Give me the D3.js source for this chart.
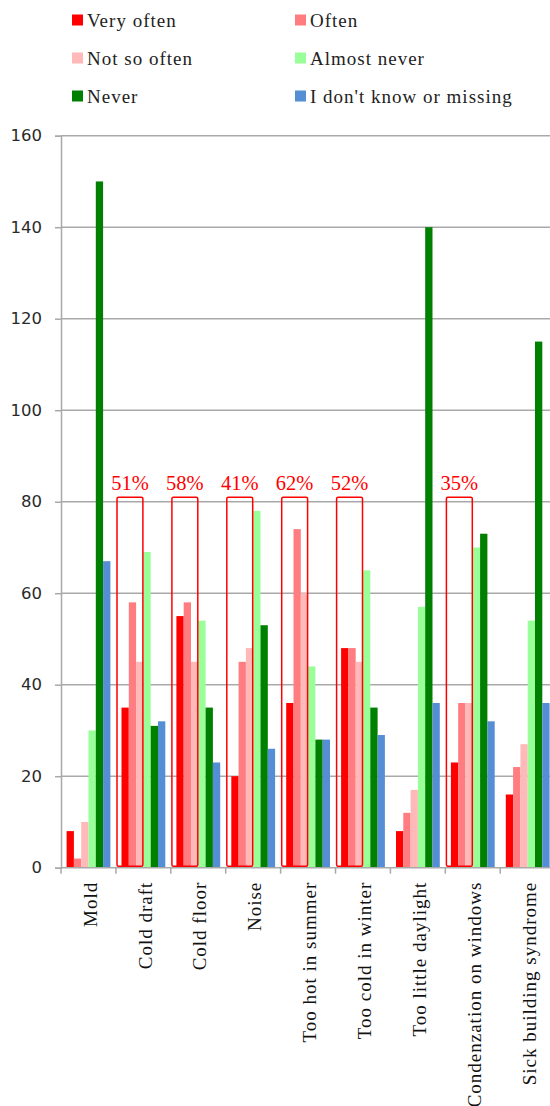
<!DOCTYPE html>
<html>
<head>
<meta charset="utf-8">
<script src="https://cdn.jsdelivr.net/npm/d3@7"></script>
<style>
  html, body { margin: 0; padding: 0; background: #ffffff; }
  svg { display: block; }
</style>
</head>
<body>
<script>
const categories = ["Mold", "Cold draft", "Cold floor", "Noise", "Too hot in summer",
  "Too cold in winter", "Too little daylight", "Condenzation on windows", "Sick building syndrome"];
const seriesNames = ["Very often", "Often", "Not so often", "Almost never", "Never", "I don't know or missing"];
const seriesColors = ["#ff0000", "#ff7c80", "#ffb9b9", "#99ff99", "#008000", "#558ed5"];
const veryOften   = [8, 35, 55, 20, 36, 48, 8, 23, 16];
const often       = [2, 58, 58, 45, 74, 48, 12, 36, 22];
const notSoOften  = [10, 45, 45, 48, 60, 45, 17, 36, 27];
const almostNever = [30, 69, 54, 78, 44, 65, 57, 70, 54];
const never       = [150, 31, 35, 53, 28, 35, 140, 73, 115];
const dontKnow    = [67, 32, 23, 26, 28, 29, 36, 32, 36];
const highlightCats = ["Cold draft", "Cold floor", "Noise", "Too hot in summer", "Too cold in winter", "Condenzation on windows"];
const highlightLabels = ["51%", "58%", "41%", "62%", "52%", "35%"];
const highlightTop = 81;
const yTicks = [0, 20, 40, 60, 80, 100, 120, 140, 160];

const seriesValues = [veryOften, often, notSoOften, almostNever, never, dontKnow];

const W = 550, H = 1106;
const svg = d3.select("body").append("svg").attr("width", W).attr("height", H);

const left = 61, bandW = 54.9;
const x0 = d3.scaleBand().domain(categories).range([left, left + bandW * categories.length]).padding(0);
const x1 = d3.scaleBand().domain(seriesNames).range([5.6, 49.4]).padding(0);
const y = d3.scaleLinear().domain([0, 160]).range([867.7, 135.7]);

const gridColor = "#a9a9a9";
const serif = "'Liberation Serif', 'Times New Roman', serif";

// gridlines
svg.append("g").selectAll("line").data(yTicks.filter(d => d > 0)).join("line")
  .attr("x1", left).attr("x2", W)
  .attr("y1", d => y(d)).attr("y2", d => y(d))
  .attr("stroke", gridColor).attr("stroke-width", 1.5);

// y axis
const yAxis = svg.append("g").attr("transform", `translate(${left},0)`)
  .call(d3.axisLeft(y).tickValues(yTicks).tickSize(6).tickPadding(13));
yAxis.select(".domain").attr("stroke", gridColor).attr("stroke-width", 1.5);
yAxis.selectAll(".tick line").attr("stroke", gridColor).attr("stroke-width", 1.5);
yAxis.selectAll(".tick text")
  .attr("font-family", "'DejaVu Sans', Verdana, sans-serif")
  .attr("font-size", 16.5).attr("fill", "#2a2a2a");

// bars
const groups = svg.append("g").selectAll("g").data(categories).join("g")
  .attr("transform", d => `translate(${x0(d)},0)`);
groups.selectAll("rect")
  .data((c, i) => seriesNames.map((s, k) => ({ s, k, v: seriesValues[k][i] })))
  .join("rect")
  .attr("x", d => x1(d.s))
  .attr("width", x1.bandwidth())
  .attr("y", d => y(d.v))
  .attr("height", d => y(0) - y(d.v))
  .attr("fill", d => seriesColors[d.k]);

// x axis
const xAxis = svg.append("g").attr("transform", `translate(0,${y(0)})`)
  .call(d3.axisBottom(x0).tickValues([]).tickSizeOuter(0));
xAxis.select(".domain").attr("stroke", gridColor).attr("stroke-width", 1.5).attr("d", `M${left},0H${W}`);
svg.append("g").selectAll("line").data(categories).join("line")
  .attr("x1", d => x0(d)).attr("x2", d => x0(d))
  .attr("y1", y(0)).attr("y2", y(0) + 6)
  .attr("stroke", gridColor).attr("stroke-width", 1.5);

// category labels
svg.append("g").selectAll("text").data(categories).join("text")
  .attr("transform", d => `translate(${x0(d) + x0.bandwidth() / 2 + 1.5},${y(0) + 14}) rotate(-90)`)
  .attr("text-anchor", "end")
  .attr("dy", "0.35em")
  .attr("font-family", serif)
  .attr("font-size", 19)
  .attr("letter-spacing", 1.0)
  .attr("fill", "#111")
  .text(d => d);

// highlight boxes
const hl = svg.append("g");
highlightCats.forEach((c, i) => {
  const bx = x0(c) + x1(seriesNames[0]) - 4.5;
  const bx2 = x0(c) + x1(seriesNames[2]) + x1.bandwidth() - 0.5;
  const by = y(highlightTop);
  hl.append("rect")
    .attr("x", bx).attr("y", by)
    .attr("width", bx2 - bx).attr("height", y(0) - 1.5 - by)
    .attr("rx", 1.5)
    .attr("fill", "none").attr("stroke", "#ff0000").attr("stroke-width", 1.5);
  hl.append("text")
    .attr("x", (bx + bx2) / 2).attr("y", by - 7)
    .attr("text-anchor", "middle")
    .attr("font-family", serif)
    .attr("font-size", 20.5)
    .attr("fill", "#ff0000")
    .text(highlightLabels[i]);
});

// legend
const legend = svg.append("g");
const legCols = [72, 295], legRows = [20, 58, 96];
seriesNames.forEach((s, k) => {
  const cx = legCols[k % 2], cy = legRows[Math.floor(k / 2)];
  legend.append("rect").attr("x", cx).attr("y", cy - 5.5).attr("width", 11).attr("height", 11)
    .attr("fill", seriesColors[k]);
  legend.append("text").attr("x", cx + 15).attr("y", cy).attr("dy", "0.35em")
    .attr("font-family", serif)
    .attr("font-size", 19).attr("letter-spacing", 1.0)
    .attr("fill", "#222")
    .text(s);
});
</script>
</body>
</html>
